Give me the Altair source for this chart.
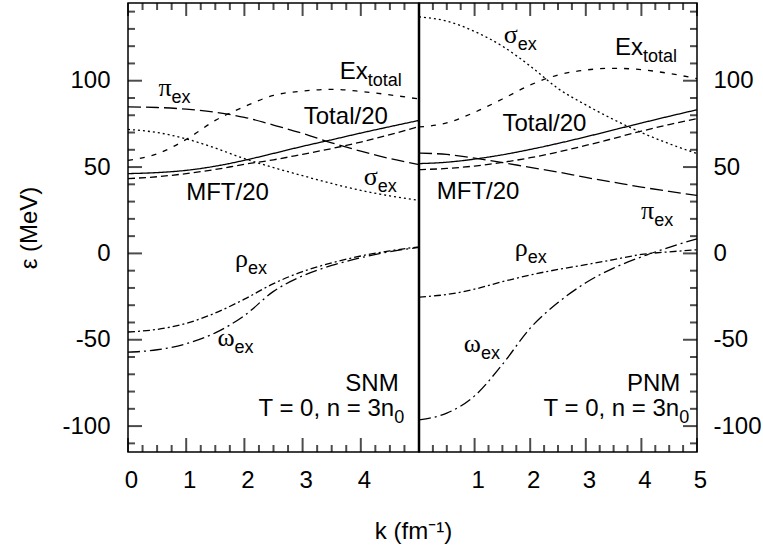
import altair as alt
import pandas as pd

# ---------------- data ----------------
K = [0, 0.5, 1, 1.5, 2, 2.5, 3, 3.5, 4, 4.5, 5]
SERIES = ["Total/20", "MFT/20", "Ex_total", "pi_ex", "sigma_ex", "rho_ex", "omega_ex"]

snm_total = [46.2, 46.8, 48.1, 50.5, 53.9, 57.9, 62.0, 65.8, 69.7, 73.4, 77.0]
snm_mft = [43.3, 44.4, 46.2, 48.6, 51.6, 54.2, 57.4, 60.7, 64.5, 68.8, 73.4]
snm_ex = [53.9, 57.6, 66.0, 77.0, 85.0, 91.5, 94.0, 95.0, 93.8, 91.8, 89.4]
snm_pi = [84.8, 84.5, 83.5, 81.7, 78.8, 74.3, 69.5, 64.0, 59.2, 54.9, 51.4]
snm_sigma = [71.8, 70.0, 66.3, 61.0, 54.9, 49.7, 45.0, 40.5, 36.5, 33.3, 30.7]
snm_rho = [-45.5, -44.0, -40.5, -34.5, -26.5, -17.5, -10.5, -5.5, -1.5, 1.5, 3.8]
snm_omega = [-57.2, -55.8, -52.3, -46.0, -36.0, -22.0, -13.0, -7.0, -2.5, 1.0, 3.5]

pnm_total = [52.0, 52.8, 54.6, 57.1, 60.2, 63.7, 67.5, 71.5, 75.5, 79.4, 83.2]
pnm_mft = [48.5, 49.2, 50.6, 52.7, 55.4, 58.7, 62.5, 66.6, 70.8, 74.6, 78.0]
pnm_ex = [73.2, 75.6, 81.7, 89.4, 97.5, 103.3, 106.2, 107.2, 106.4, 104.2, 101.2]
pnm_pi = [58.1, 57.3, 55.2, 52.6, 49.8, 47.1, 44.0, 41.2, 38.4, 35.9, 33.6]
pnm_sigma = [137.0, 134.5, 128.5, 120.0, 108.5, 95.5, 86.0, 77.5, 70.0, 63.5, 57.8]
pnm_rho = [-25.3, -23.8, -20.7, -16.4, -12.5, -9.3, -6.5, -3.6, -0.6, 0.9, 2.1]
pnm_omega = [-96.4, -92.5, -82.5, -64.3, -43.3, -28.5, -17.0, -8.5, -2.0, 3.5, 8.5]

# tick values
X_MAJOR = [0, 1, 2, 3, 4, 5]
X_MINOR = [0.25, 0.5, 0.75, 1.25, 1.5, 1.75, 2.25, 2.5, 2.75, 3.25, 3.5, 3.75,
           4.25, 4.5, 4.75]
Y_MAJOR = [-100, -50, 0, 50, 100]
Y_MINOR = [-110, -90, -80, -70, -60, -40, -30, -20, -10, 10, 20, 30, 40,
           60, 70, 80, 90, 110, 120, 130, 140]

# annotations: plain text (left aligned), plain text (right aligned),
# and (base, subscript, junction x, baseline y, greek?)
snm_plain_left = [("Total/20", 3.02, 75.1), ("MFT/20", 1.0, 30.7)]
snm_plain_right = [("SNM", 4.65, -79.4)]
snm_sub = [("Ex", "total", 4.12, 101.2, False), ("π", "ex", 0.748, 91.0, True),
           ("σ", "ex", 4.29, 39.4, True), ("ρ", "ex", 2.06, -7.9, True),
           ("ω", "ex", 1.83, -53.9, True), ("T = 0, n = 3n", "0", 4.573, -93.9, False)]

pnm_plain_left = [("Total/20", 1.50, 70.9), ("MFT/20", 0.32, 31.7)]
pnm_plain_right = [("PNM", 4.70, -79.4)]
pnm_sub = [("σ", "ex", 1.775, 122.0, True), ("Ex", "total", 4.03, 114.7, False),
           ("π", "ex", 4.23, 20.1, True), ("ρ", "ex", 1.955, -1.4, True),
           ("ω", "ex", 1.115, -57.2, True), ("T = 0, n = 3n", "0", 4.68, -93.9, False)]

DASHES = [[1, 0], [7, 4], [5, 7], [13, 5], [2, 3], [7, 3, 2, 3], [12, 4, 2, 4]]

W1, W2, H = 291, 278, 449
XMIN, XMAX, YMIN, YMAX = 0, 5, -115, 145
FONT = "Liberation Sans"


def build_panel(series_vals, width, left, plain_left, plain_right, subs):
    xs = alt.Scale(domain=[XMIN, XMAX], nice=False, zero=False)
    ys = alt.Scale(domain=[YMIN, YMAX], nice=False, zero=False)
    common = dict(ticks=False, tickSize=0, domain=False, grid=False,
                  labelOverlap=False, labelFlush=False)
    if left:
        xaxis = alt.Axis(values=[0, 1, 2, 3, 4], labelPadding=16, labelOffset=3,
                         format="d", title="k (fm⁻¹)", titleX=285, titleY=86,
                         titleBaseline="alphabetic", titleAlign="center", **common)
        yaxis = alt.Axis(values=Y_MAJOR, orient="left", labelPadding=18,
                         labelExpr="'' + datum.value", title="ε (MeV)", titleX=-92,
                         titleY=H / 2, titleAngle=270, titleBaseline="alphabetic",
                         titleAlign="center", **common)
    else:
        xaxis = alt.Axis(values=[1, 2, 3, 4, 5], labelPadding=16, labelOffset=3,
                         format="d", title=None, **common)
        yaxis = alt.Axis(values=Y_MAJOR, orient="right", labelPadding=16,
                         labelExpr="'' + datum.value", title=None, **common)

    def X(f):
        return alt.X(f, type="quantitative", scale=xs, axis=xaxis)

    def Y(f):
        return alt.Y(f, type="quantitative", scale=ys, axis=yaxis)

    rows = []
    for s, vals in zip(SERIES, series_vals):
        for k, v in zip(K, vals):
            rows.append({"series": s, "k": k, "v": v})
    df = pd.DataFrame(rows)

    lines = alt.Chart(df).mark_line(color="black", strokeWidth=1.3,
                                    interpolate="monotone").encode(
        x=X("k"), y=Y("v"),
        strokeDash=alt.StrokeDash("series:N",
                                  scale=alt.Scale(domain=SERIES, range=DASHES),
                                  legend=None),
        detail="series:N")

    layers = [lines]

    # inward tick marks: tick marks of fixed pixel length, centred half a length
    # inside the frame
    def yticks(vals, length):
        d = pd.DataFrame({"v": vals})
        xc = length / 2 if left else width - length / 2
        return alt.Chart(d).mark_tick(color="black", thickness=2, size=length,
                                      orient="horizontal").encode(
            y=Y("v"), x=alt.value(xc))

    def xticks(vals, length, top):
        d = pd.DataFrame({"k": vals})
        yc = length / 2 if top else H - length / 2
        return alt.Chart(d).mark_tick(color="black", thickness=2, size=length,
                                      orient="vertical").encode(
            x=X("k"), y=alt.value(yc))

    layers += [yticks(Y_MAJOR, 14), yticks(Y_MINOR, 7),
               xticks(X_MAJOR, 14, False), xticks(X_MINOR, 7, False),
               xticks(X_MAJOR, 13, True), xticks(X_MINOR, 7, True)]

    if left:
        layers.append(alt.Chart(pd.DataFrame({"k": [XMAX]})).mark_rule(
            color="black", strokeWidth=2.5).encode(x=X("k")))

    pl = pd.DataFrame(plain_left, columns=["t", "x", "y"])
    layers.append(alt.Chart(pl).mark_text(align="left", baseline="alphabetic", font=FONT,
                                          fontSize=24, color="black").encode(
        x=X("x"), y=Y("y"), text="t:N"))
    pr = pd.DataFrame(plain_right, columns=["t", "x", "y"])
    layers.append(alt.Chart(pr).mark_text(align="right", baseline="alphabetic", font=FONT,
                                          fontSize=24, color="black").encode(
        x=X("x"), y=Y("y"), text="t:N"))

    sd = pd.DataFrame(subs, columns=["base", "sub", "x", "y", "greek"])
    greek = sd[sd["greek"]]
    latin = sd[~sd["greek"]]
    layers.append(alt.Chart(greek).mark_text(align="right", baseline="alphabetic",
                                             font="Liberation Serif", fontSize=26,
                                             color="black").encode(
        x=X("x"), y=Y("y"), text="base:N"))
    layers.append(alt.Chart(latin).mark_text(align="right", baseline="alphabetic",
                                             font=FONT, fontSize=24,
                                             color="black").encode(
        x=X("x"), y=Y("y"), text="base:N"))
    layers.append(alt.Chart(sd).mark_text(align="left", baseline="alphabetic", font=FONT,
                                          fontSize=18, dy=7, color="black").encode(
        x=X("x"), y=Y("y"), text="sub:N"))

    return alt.layer(*layers).properties(width=width, height=H)


left = build_panel([snm_total, snm_mft, snm_ex, snm_pi, snm_sigma, snm_rho, snm_omega],
                   W1, True, snm_plain_left, snm_plain_right, snm_sub)
right = build_panel([pnm_total, pnm_mft, pnm_ex, pnm_pi, pnm_sigma, pnm_rho, pnm_omega],
                    W2, False, pnm_plain_left, pnm_plain_right, pnm_sub)

chart = alt.hconcat(left, right, spacing=0, bounds="flush").properties(
    padding={"left": 16, "top": 1, "right": 0, "bottom": 0}
).configure_view(stroke="black", strokeWidth=1.5).configure_axis(
    labelFont=FONT, labelFontSize=24, labelColor="black",
    titleFont=FONT, titleFontSize=24, titleColor="black", titleFontWeight="normal"
)

chart.save("out.html", embed_options={"renderer": "svg", "actions": False})
